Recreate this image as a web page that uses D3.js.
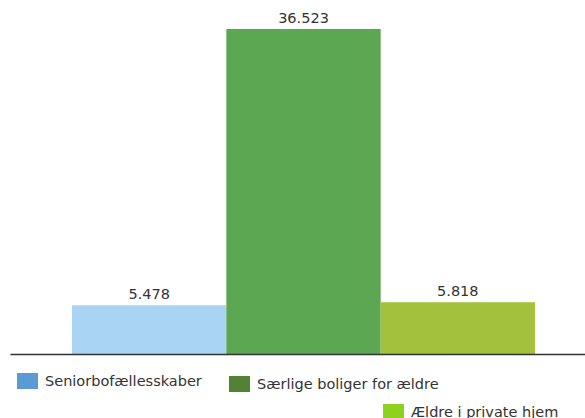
<!DOCTYPE html>
<html>
<head>
<meta charset="utf-8">
<script src="https://cdn.jsdelivr.net/npm/d3@7/dist/d3.min.js"></script>
<style>
  html, body { margin: 0; padding: 0; background: #fff; }
  svg { display: block; }
  text { font-family: "DejaVu Sans", Verdana, sans-serif; fill: #333; }
</style>
</head>
<body>
<svg id="chart" width="585" height="418"></svg>
<script>
const categories = ["Seniorbofællesskaber", "Særlige boliger for ældre", "Ældre i private hjem"];
const values = [5.478, 36.523, 5.818];
const valueLabels = ["5.478", "36.523", "5.818"];
const barColors = ["#aad4f4", "#5ca752", "#a3c13c"];
const legendColors = ["#5b9bd5", "#548235", "#8fd11f"];

const svg = d3.select("#chart");
const baseY = 354;

const x = d3.scaleBand().domain(categories).range([72, 535]).padding(0);
const y = d3.scaleLinear().domain([0, d3.max(values)]).range([baseY, 29]);

svg.append("g").selectAll("rect")
  .data(categories)
  .join("rect")
  .attr("x", d => x(d))
  .attr("width", x.bandwidth())
  .attr("y", (d, i) => y(values[i]))
  .attr("height", (d, i) => baseY - y(values[i]))
  .attr("fill", (d, i) => barColors[i]);

svg.append("g").selectAll("text")
  .data(categories)
  .join("text")
  .attr("x", d => x(d) + x.bandwidth() / 2)
  .attr("y", (d, i) => y(values[i]) - 6)
  .attr("text-anchor", "middle")
  .attr("font-size", 14.5)
  .text((d, i) => valueLabels[i]);

// baseline axis
const xAxis = d3.axisBottom(d3.scaleLinear().domain([0, 1]).range([10, 585]))
  .ticks(0).tickSize(0).tickFormat("");
const ax = svg.append("g").attr("transform", `translate(0,${baseY})`).call(xAxis);
ax.select(".domain").attr("stroke", "#333").attr("stroke-width", 1.5);

// legend
const legendPos = [
  { sx: 17, sy: 373 },
  { sx: 229, sy: 376 },
  { sx: 383, sy: 404 }
];
const lg = svg.append("g").selectAll("g")
  .data(categories)
  .join("g")
  .attr("transform", (d, i) => `translate(${legendPos[i].sx},${legendPos[i].sy})`);
lg.append("rect")
  .attr("width", 21).attr("height", 16)
  .attr("fill", (d, i) => legendColors[i]);
lg.append("text")
  .attr("x", 28).attr("y", 13)
  .attr("font-size", 14.5)
  .text(d => d);
</script>
</body>
</html>
